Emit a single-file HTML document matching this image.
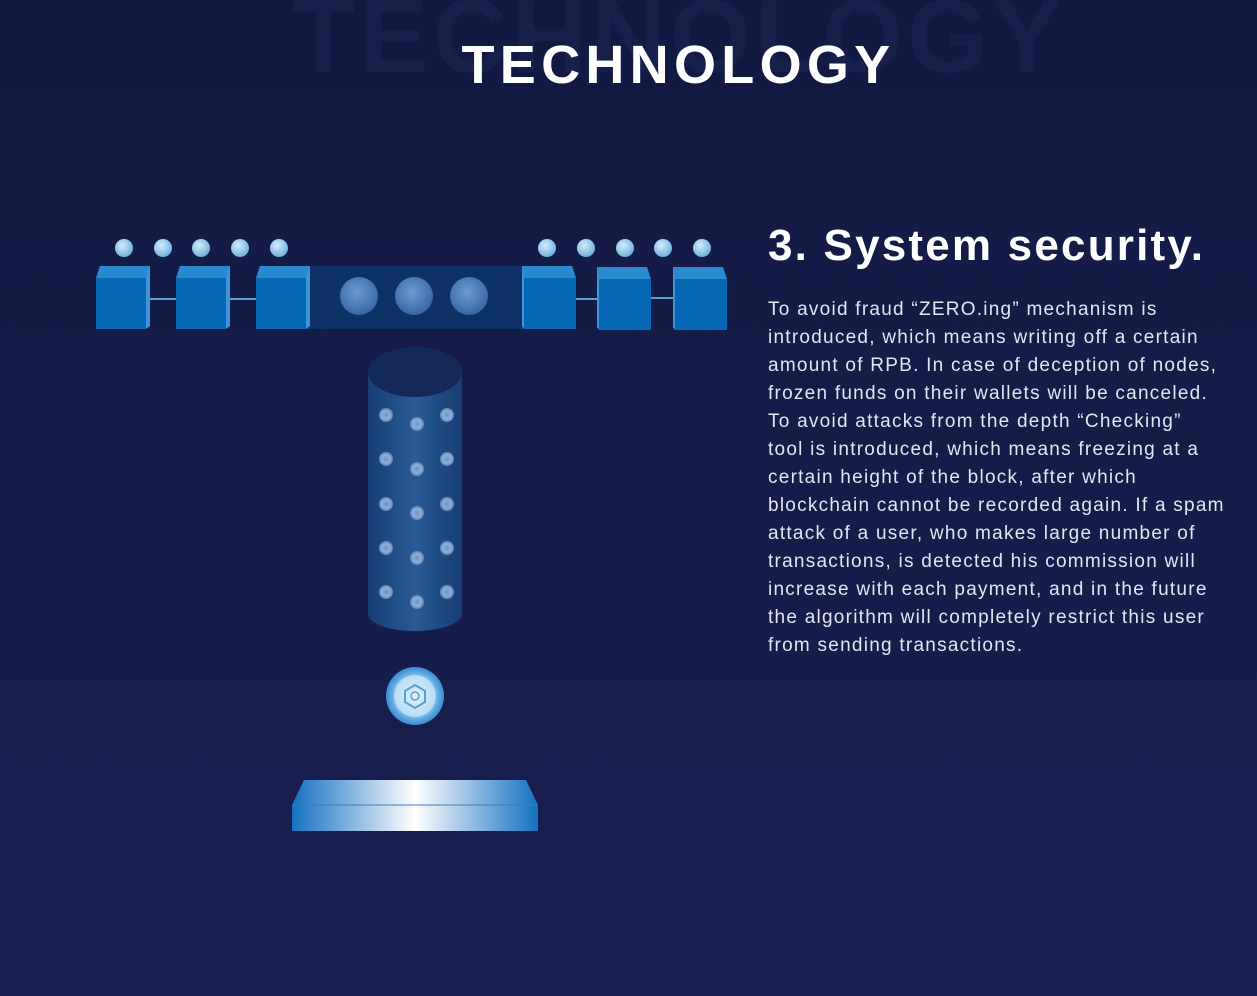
<!DOCTYPE html>
<html><head><meta charset="utf-8"><style>
body{margin:0;width:1257px;height:996px;overflow:hidden;background:linear-gradient(#121a42,#181f50);font-family:"Liberation Sans",sans-serif;position:relative}
.ghost{position:absolute;left:0;width:1357px;top:-22px;text-align:center;font-weight:bold;font-size:104px;color:#171f4b;letter-spacing:4px}
.title{position:absolute;left:0;width:1357px;top:34px;text-align:center;font-weight:bold;font-size:54px;color:#fff;letter-spacing:5.3px}
h2{position:absolute;left:768px;top:221px;margin:0;font-size:44px;color:#fff;font-weight:bold;letter-spacing:2.2px}
.txt{position:absolute;left:768px;top:296px;color:#e2e6f2;font-size:19px;line-height:28px;letter-spacing:1.25px}
.txt div{white-space:nowrap}
</style></head><body>
<div class="ghost">TECHNOLOGY</div>
<div class="title">TECHNOLOGY</div>
<svg width="1257" height="996" style="position:absolute;left:0;top:0">
<defs>
<radialGradient id="b" cx="40%" cy="35%" r="65%"><stop offset="0" stop-color="#d4ecfa"/><stop offset="1" stop-color="#6fb2dc"/></radialGradient>
<radialGradient id="g" cx="45%" cy="40%" r="60%"><stop offset="0" stop-color="#6c9ccf"/><stop offset="1" stop-color="#3a66a6"/></radialGradient>
<linearGradient id="cyl" x1="0" x2="1"><stop offset="0" stop-color="#163e74"/><stop offset=".5" stop-color="#2a5a94"/><stop offset="1" stop-color="#163e74"/></linearGradient>
<linearGradient id="plat" x1="0" x2="1"><stop offset="0" stop-color="#1570c0"/><stop offset=".5" stop-color="#ffffff"/><stop offset="1" stop-color="#1570c0"/></linearGradient>
<radialGradient id="coin" cx="50%" cy="50%" r="50%"><stop offset="0" stop-color="#e0f1fb"/><stop offset=".7" stop-color="#b8def3"/><stop offset=".75" stop-color="#6fb4e4"/><stop offset="1" stop-color="#3b8dd3"/></radialGradient>
<radialGradient id="d" cx="50%" cy="50%" r="50%"><stop offset="0" stop-color="#6f8fc0"/><stop offset=".6" stop-color="#8fb0d8"/><stop offset="1" stop-color="#5d7fb5"/></radialGradient>
</defs>
<g fill="url(#b)">
<circle cx="124" cy="248" r="9"/><circle cx="163" cy="248" r="9"/><circle cx="201" cy="248" r="9"/><circle cx="240" cy="248" r="9"/><circle cx="279" cy="248" r="9"/>
<circle cx="547" cy="248" r="9"/><circle cx="586" cy="248" r="9"/><circle cx="625" cy="248" r="9"/><circle cx="663" cy="248" r="9"/><circle cx="702" cy="248" r="9"/>
</g>
<rect x="306" y="266" width="218" height="63" fill="#0e3266"/>
<circle cx="359" cy="296" r="19" fill="url(#g)"/><circle cx="414" cy="296" r="19" fill="url(#g)"/><circle cx="469" cy="296" r="19" fill="url(#g)"/>
<g stroke="#5aa0d8" stroke-width="2"><line x1="140" y1="299" x2="180" y2="299"/><line x1="220" y1="299" x2="260" y2="299"/><line x1="570" y1="299" x2="600" y2="299"/><line x1="650" y1="298" x2="676" y2="298"/></g>
<g>
<g transform="translate(96,266)"><polygon points="0,12 4,0 54,0 54,12" fill="#2a8ad0"/><rect x="0" y="12" width="50" height="51" fill="#0667b5"/><polygon points="50,12 54,0 54,60 50,63" fill="#3f96d4"/></g>
<g transform="translate(176,266)"><polygon points="0,12 4,0 54,0 54,12" fill="#2a8ad0"/><rect x="0" y="12" width="50" height="51" fill="#0667b5"/><polygon points="50,12 54,0 54,60 50,63" fill="#3f96d4"/></g>
<g transform="translate(256,266)"><polygon points="0,12 4,0 54,0 54,12" fill="#2a8ad0"/><rect x="0" y="12" width="50" height="51" fill="#0667b5"/><polygon points="50,12 54,0 54,60 50,63" fill="#3f96d4"/></g>
<g transform="translate(522,266)"><polygon points="0,12 0,0 50,0 54,12" fill="#2a8ad0"/><rect x="2" y="12" width="52" height="51" fill="#0667b5"/><polygon points="0,0 2,12 2,63 0,60" fill="#3f96d4"/></g>
<g transform="translate(597,267)"><polygon points="0,12 0,0 50,0 54,12" fill="#2a8ad0"/><rect x="2" y="12" width="52" height="51" fill="#0667b5"/><polygon points="0,0 2,12 2,63 0,60" fill="#3f96d4"/></g>
<g transform="translate(673,267)"><polygon points="0,12 0,0 50,0 54,12" fill="#2a8ad0"/><rect x="2" y="12" width="52" height="51" fill="#0667b5"/><polygon points="0,0 2,12 2,63 0,60" fill="#3f96d4"/></g>
</g>
<rect x="368" y="372" width="94" height="242" fill="url(#cyl)"/>
<ellipse cx="415" cy="614" rx="47" ry="17" fill="url(#cyl)"/>
<ellipse cx="415" cy="372" rx="47" ry="25" fill="#132a58"/>
<g fill="url(#d)">
<circle cx="386" cy="415" r="7"/><circle cx="417" cy="424" r="7"/><circle cx="447" cy="415" r="7"/>
<circle cx="386" cy="459" r="7"/><circle cx="417" cy="469" r="7"/><circle cx="447" cy="459" r="7"/>
<circle cx="386" cy="504" r="7"/><circle cx="417" cy="513" r="7"/><circle cx="447" cy="504" r="7"/>
<circle cx="386" cy="548" r="7"/><circle cx="417" cy="558" r="7"/><circle cx="447" cy="548" r="7"/>
<circle cx="386" cy="592" r="7"/><circle cx="417" cy="602" r="7"/><circle cx="447" cy="592" r="7"/>
</g>
<circle cx="415" cy="696" r="29" fill="url(#coin)"/>
<polygon points="415,685 425,691 425,702 415,708 405,702 405,691" fill="none" stroke="#5a9fd4" stroke-width="2"/>
<circle cx="415" cy="696" r="4" fill="none" stroke="#5a9fd4" stroke-width="1.5"/>
<polygon points="304,780 526,780 538,805 292,805" fill="url(#plat)"/>
<rect x="292" y="805" width="246" height="26" fill="url(#plat)"/>
<line x1="292" y1="805" x2="538" y2="805" stroke="#3a7cbc" stroke-width="1"/>
</svg>
<h2>3. System security.</h2>
<div class="txt">
<div>To avoid fraud “ZERO.ing” mechanism is</div>
<div>introduced, which means writing off a certain</div>
<div>amount of RPB. In case of deception of nodes,</div>
<div>frozen funds on their wallets will be canceled.</div>
<div>To avoid attacks from the depth “Checking”</div>
<div>tool is introduced, which means freezing at a</div>
<div>certain height of the block, after which</div>
<div>blockchain cannot be recorded again. If a spam</div>
<div>attack of a user, who makes large number of</div>
<div>transactions, is detected his commission will</div>
<div>increase with each payment, and in the future</div>
<div>the algorithm will completely restrict this user</div>
<div>from sending transactions.</div>
</div>
</body></html>
